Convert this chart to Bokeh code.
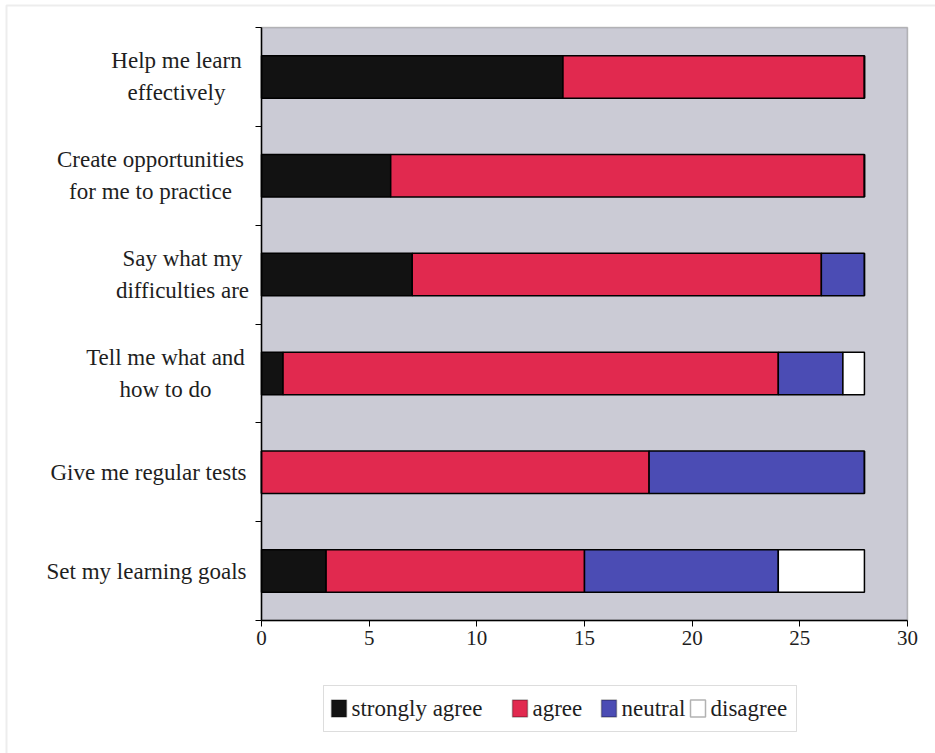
from bokeh.plotting import figure
from bokeh.models import (ColumnDataSource, Range1d, FixedTicker, LinearAxis,
                          Label, BoxAnnotation)
from bokeh.embed import file_html
from bokeh.resources import INLINE

# Survey responses: what students want their teacher to do
statements = [
    "Help me learn\neffectively",
    "Create opportunities\nfor me to practice",
    "Say what my\ndifficulties are",
    "Tell me what and\nhow to do",
    "Give me regular tests",
    "Set my learning goals",
]
strongly_agree = [14, 6, 7, 1, 0, 3]
agree = [14, 22, 19, 23, 18, 12]
neutral = [0, 0, 2, 3, 10, 9]
disagree = [0, 0, 0, 1, 0, 4]

series_names = ["strongly agree", "agree", "neutral", "disagree"]
series_colors = ["#121212", "#e1294f", "#4b4cb4", "#ffffff"]
x_ticks = [0, 5, 10, 15, 20, 25, 30]
x_max = 30

SERIF = "Liberation Serif"
TEXT = "#1e1e1e"

# page geometry (pixels) of the plotting area inside the 935 x 753 canvas
W, H = 935, 753
AREA_L, AREA_R, AREA_T, AREA_B = 261, 907, 27, 620

n = len(statements)
centres = [i + 0.5 for i in range(n)]

# data ranges chosen so that 0..x_max and 0..n fill the plotting area
ux = (AREA_R - AREA_L) / x_max
uy = (AREA_B - AREA_T) / n
x_range = Range1d(-AREA_L / ux, x_max + (W - AREA_R) / ux)
y_range = Range1d(n + (H - AREA_B) / uy, -AREA_T / uy)


def px_x(px):
    """Canvas pixel column -> data x."""
    return (px - AREA_L) / ux


def px_y(py):
    """Canvas pixel row -> data y."""
    return (py - AREA_T) / uy


src = ColumnDataSource(dict(
    y=centres,
    **dict(zip(series_names, [strongly_agree, agree, neutral, disagree])),
))

p = figure(width=W, height=H, output_backend="svg", toolbar_location=None,
           x_range=x_range, y_range=y_range, min_border=0,
           x_axis_location=None, y_axis_location=None)
p.background_fill_color = "white"
p.border_fill_color = "white"
p.outline_line_color = None
p.xgrid.visible = False
p.ygrid.visible = False

# grey plotting area with a dark frame
p.add_layout(BoxAnnotation(left=0, right=x_max, top=0, bottom=n,
                           fill_color="#cbcbd5", fill_alpha=1,
                           line_color="#3a3a3a", line_width=1.5,
                           level="underlay"))

p.hbar_stack(series_names, y="y", height=0.43, source=src,
             color=series_colors, line_color="black", line_width=1.5)

# x axis along the bottom of the plotting area
xa = LinearAxis(fixed_location=n, bounds=(0, x_max),
                ticker=FixedTicker(ticks=x_ticks))
xa.axis_line_color = "black"
xa.axis_line_width = 1.5
xa.major_tick_out = 6
xa.major_tick_in = 0
xa.minor_tick_line_color = None
xa.major_tick_line_color = "black"
xa.major_label_text_font = SERIF
xa.major_label_text_font_size = "21px"
xa.major_label_text_color = TEXT
xa.major_label_standoff = 4
p.add_layout(xa, "below")

# y axis at zero, ticks on the category boundaries
ya = LinearAxis(fixed_location=0, bounds=(0, n),
                ticker=FixedTicker(ticks=list(range(n + 1))),
                major_label_overrides={i: "" for i in range(n + 1)})
ya.axis_line_color = "black"
ya.axis_line_width = 1.5
ya.major_tick_out = 6
ya.major_tick_in = 0
ya.minor_tick_line_color = None
ya.major_tick_line_color = "black"
p.add_layout(ya, "left")

# category labels: right edge near the axis, two-line labels centred in a block
block_centres = [176, 150, 182, 165, None, None]
label_right = 246
line_gap = 16
for c, txt, centre in zip(centres, statements, block_centres):
    lines = txt.split("\n")
    if len(lines) == 1:
        p.add_layout(Label(x=0, y=c, x_offset=label_right - AREA_L,
                           text=lines[0], text_align="right",
                           text_baseline="middle", text_font=SERIF,
                           text_font_size="23px", text_color=TEXT))
    else:
        for k, line in enumerate(lines):
            p.add_layout(Label(x=0, y=c, x_offset=centre - AREA_L,
                               y_offset=line_gap if k == 0 else -line_gap,
                               text=line, text_align="center",
                               text_baseline="middle", text_font=SERIF,
                               text_font_size="23px", text_color=TEXT))

# legend box below the axis: framed row of swatches and serif labels
LEG_L, LEG_R, LEG_T, LEG_B = 323, 796, 685, 731
swatch_left = [331, 512, 601, 690]
SW_W, SW_H = 15, 17
leg_mid = (LEG_T + LEG_B) / 2
p.add_layout(BoxAnnotation(left=px_x(LEG_L), right=px_x(LEG_R),
                           top=px_y(LEG_T), bottom=px_y(LEG_B),
                           fill_color="white", fill_alpha=1,
                           line_color="#8f8f8f", line_width=1))
for name, color, sx in zip(series_names, series_colors, swatch_left):
    p.add_layout(BoxAnnotation(left=px_x(sx), right=px_x(sx + SW_W),
                               top=px_y(leg_mid - SW_H / 2),
                               bottom=px_y(leg_mid + SW_H / 2),
                               fill_color=color, fill_alpha=1,
                               line_color="black", line_width=1.5))
    p.add_layout(Label(x=px_x(sx + SW_W + 5), y=px_y(leg_mid), text=name,
                       text_align="left", text_baseline="middle",
                       text_font=SERIF, text_font_size="23px",
                       text_color=TEXT))

# light page frame along the top and left edges
p.add_layout(BoxAnnotation(left=px_x(6), right=x_range.end + 1,
                           top=px_y(5), bottom=y_range.start + 1,
                           fill_alpha=0, line_color="#c4c4c4", line_width=2))

open("out.html", "w").write(file_html(p, INLINE))
